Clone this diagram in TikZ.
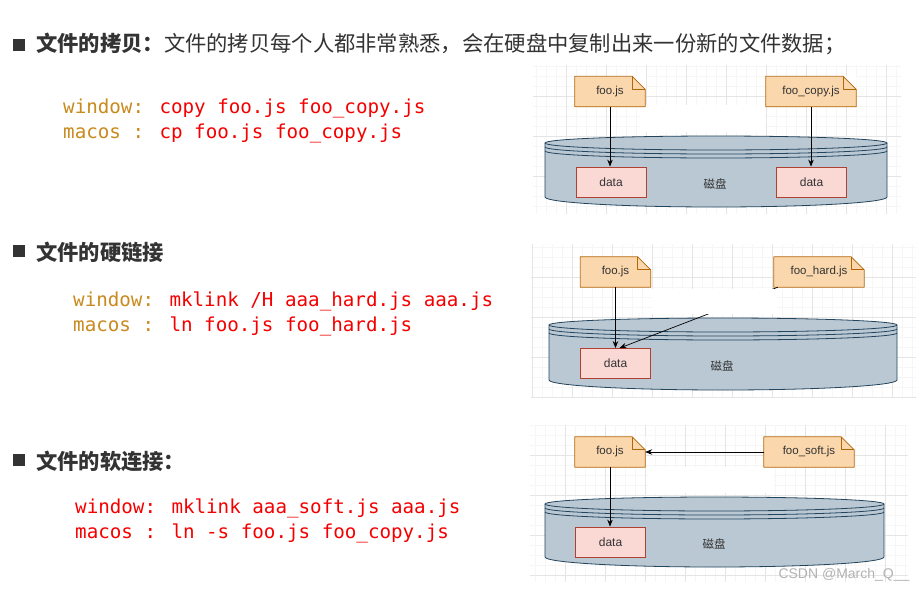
\documentclass[tikz,border=0pt]{standalone}
\usepackage{fontspec}
\setmainfont{Noto Sans CJK SC}
\newfontfamily\codefont{DejaVu Sans Mono}
\newfontfamily\labelfont{Liberation Sans}
\usetikzlibrary{arrows.meta}

\definecolor{headgray}{HTML}{333333}
\definecolor{labelgray}{HTML}{333333}
\definecolor{cmdorange}{HTML}{C98A1E}
\definecolor{cmdred}{HTML}{F50000}
\definecolor{notefill}{HTML}{FAD7AC}
\definecolor{noteline}{HTML}{B46504}
\definecolor{datafill}{HTML}{FAD9D5}
\definecolor{dataline}{HTML}{AE4132}
\definecolor{diskfill}{HTML}{BAC8D3}
\definecolor{diskline}{HTML}{23445D}

\tikzset{
  heading/.style={anchor=west, inner sep=0pt, text=headgray, font=\fontsize{21.3}{21.3}\selectfont},
  bullet/.style={fill=headgray, minimum size=12pt, inner sep=0pt},
  codeline/.style={anchor=base west, inner sep=0pt, font=\codefont\fontsize{19.2}{19.2}\selectfont},
  note/.style={fill=notefill, inner sep=0pt, minimum height=30pt, text=labelgray, font=\labelfont\fontsize{11.5}{11.5}\selectfont},
  noteedge/.style={draw=noteline, line width=0.8pt, line join=round},
  datablock/.style={draw=dataline, fill=datafill, line width=0.8pt, minimum width=70pt, minimum height=30pt, inner sep=0pt, text=labelgray, font=\labelfont\fontsize{12}{12}\selectfont},
  disklabel/.style={inner sep=0pt, text=labelgray, font=\fontsize{11.5}{11.5}\selectfont},
  link/.style={-{Stealth[length=7pt,width=5.5pt]}, line width=0.7pt},
  minorgrid/.style={draw=gray!7, line width=0.4pt},
  majorgrid/.style={draw=gray!20, line width=0.5pt},
}

% grid behind a drawing: x1,y1,x2,y2, first major x, first major y
\newcommand{\bggrid}[6]{%
  \begin{scope}
    \clip (#1,#2) rectangle (#3,#4);
    \foreach \gx in {0,10,...,420} \draw[minorgrid] (#5-40+\gx,#2) -- (#5-40+\gx,#4);
    \foreach \gy in {0,10,...,200} \draw[minorgrid] (#1,#6-40+\gy) -- (#3,#6-40+\gy);
    \foreach \gx in {0,40,...,420} \draw[majorgrid] (#5-40+\gx,#2) -- (#5-40+\gx,#4);
    \foreach \gy in {0,40,...,200} \draw[majorgrid] (#1,#6-40+\gy) -- (#3,#6-40+\gy);
  \end{scope}}

% disk drum: centre x, x radius, y of top ellipse, y of lower side
\newcommand{\diskdrum}[4]{%
  \filldraw[fill=diskfill, draw=diskline, line width=0.8pt]
    (#1-#2,#3) arc[start angle=180, end angle=0, x radius=#2pt, y radius=7pt]
    -- (#1+#2,#4) arc[start angle=0, end angle=-180, x radius=#2pt, y radius=10pt] -- cycle;
  \draw[diskline, line width=0.8pt] (#1-#2,#3) arc[start angle=180, end angle=360, x radius=#2pt, y radius=7pt];
  \draw[diskline, line width=0.8pt] (#1-#2,#3+4) arc[start angle=180, end angle=360, x radius=#2pt, y radius=7pt];
  \draw[diskline, line width=0.8pt] (#1-#2,#3+8) arc[start angle=180, end angle=360, x radius=#2pt, y radius=7pt];}

% folded corner of a file note
\newcommand{\notecorner}[1]{%
  \fill[white] ([xshift=-13pt]#1.north east) -- ([xshift=0.5pt,yshift=0.5pt]#1.north east) -- ([yshift=-13pt]#1.north east) -- cycle;
  \draw[noteedge] (#1.south west) -- (#1.north west) -- ([xshift=-13pt]#1.north east)
    -- ([yshift=-13pt]#1.north east) -- (#1.south east) -- cycle;
  \draw[noteedge] ([xshift=-13pt]#1.north east) -- ([xshift=-13pt,yshift=-13pt]#1.north east) -- ([yshift=-13pt]#1.north east);}

\begin{document}
\begin{tikzpicture}[x=1pt,y=-1pt]
\useasboundingbox (0,0) rectangle (924,592);
\fill[white] (0,0) rectangle (924,592);

% copy
\node[bullet] (sq1) at (19,45) {};
\node[heading] (head1) at (36,44) {\textbf{文件的拷贝：}文件的拷贝每个人都非常熟悉，会在硬盘中复制出来一份新的文件数据；};
\node[codeline] (win1) at (63,113) {\textcolor{cmdorange}{window:} \textcolor{cmdred}{copy foo.js foo\_copy.js}};
\node[codeline] (mac1) at (63,138) {\textcolor{cmdorange}{macos :} \textcolor{cmdred}{cp foo.js foo\_copy.js}};

\bggrid{533}{65}{901}{214}{566}{96}
\fill[white] (640,105) rectangle (765,132);
\diskdrum{716}{171}{143}{197}
\node[disklabel] (disk1) at (715,184) {磁盘};
\node[datablock] (data1a) at (611,182) {data};
\node[datablock] (data1b) at (811.5,182) {data};
\node[note, minimum width=70pt] (foo1) at (610,91.5) {foo.js};
\notecorner{foo1}
\node[note, minimum width=90pt] (copy1) at (811,91.5) {foo\_copy.js};
\notecorner{copy1}
\draw[link] (foo1.south) -- (foo1.south |- data1a.north);
\draw[link] (copy1.south) -- (copy1.south |- data1b.north);

% hard link
\node[bullet] (sq2) at (19,251) {};
\node[heading] (head2) at (36,252) {\textbf{文件的硬链接}};
\node[codeline] (win2) at (73,306) {\textcolor{cmdorange}{window:} \textcolor{cmdred}{mklink /H aaa\_hard.js aaa.js}};
\node[codeline] (mac2) at (73,331) {\textcolor{cmdorange}{macos :} \textcolor{cmdred}{ln foo.js foo\_hard.js}};

\bggrid{531}{244}{916}{398}{572}{277}
\diskdrum{723}{174}{325}{380}
\node[disklabel] (disk2) at (722,366) {磁盘};
\node[datablock] (data2) at (615.5,363.5) {data};
\node[note, minimum width=70pt] (foo2) at (615.5,272) {foo.js};
\notecorner{foo2}
\node[note, minimum width=90pt] (hard2) at (819,272) {foo\_hard.js};
\notecorner{hard2}
\draw[link] (foo2.south) -- (foo2.south |- data2.north);
\draw[link] ([xshift=4pt]hard2.south west) -- ([xshift=4pt]data2.north);
\fill[white] (652,289) rectangle (777,314);

% soft link
\node[bullet] (sq3) at (19,460) {};
\node[heading] (head3) at (36,461) {\textbf{文件的软连接：}};
\node[codeline] (win3) at (75,513) {\textcolor{cmdred}{window: mklink aaa\_soft.js aaa.js}};
\node[codeline] (mac3) at (75,538) {\textcolor{cmdred}{macos : ln -s foo.js foo\_copy.js}};

\bggrid{530}{425}{908}{582}{565}{455}
\fill[white] (648,467) rectangle (773,493);
\diskdrum{714.5}{169.5}{504}{557}
\node[disklabel] (disk3) at (714,544) {磁盘};
\node[datablock] (data3) at (610.5,542) {data};
\node[note, minimum width=70pt] (foo3) at (610,452) {foo.js};
\notecorner{foo3}
\node[note, minimum width=90pt] (soft3) at (809,452) {foo\_soft.js};
\notecorner{soft3}
\draw[link] (foo3.south) -- (foo3.south |- data3.north);
\draw[link] (soft3.west) -- (foo3.east);

\node[inner sep=0pt, text=gray!60, font=\labelfont\fontsize{14}{14}\selectfont] (mark) at (844,575) {CSDN @March\_Q\_\_};
\end{tikzpicture}
\end{document}
